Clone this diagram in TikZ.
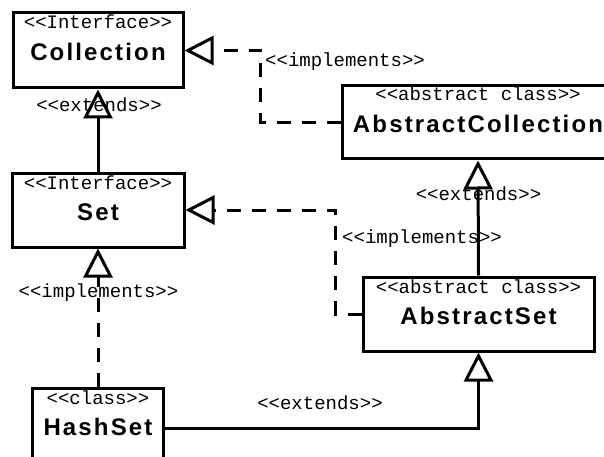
\documentclass[tikz,border=0pt]{standalone}
\usepackage{fontspec}
\usetikzlibrary{arrows.meta}
\newfontfamily\stereofont{Liberation Mono}
\newfontfamily\classfont[LetterSpace=9]{Liberation Sans}

\begin{document}
\begin{tikzpicture}[x=1pt, y=-1pt,
    classBox/.style={draw, line width=3pt, inner sep=0pt, minimum height=74pt},
    stereoText/.style={anchor=base, inner sep=0pt,
      font=\stereofont\fontsize{19}{19}\selectfont},
    nameText/.style={anchor=base, inner sep=0pt,
      font=\classfont\bfseries\fontsize{24}{24}\selectfont},
    generalizes/.style={-{Triangle[open, length=29pt, width=29pt]}, line width=3pt},
    realizes/.style={generalizes, dash pattern=on 14pt off 11pt}
  ]
  \useasboundingbox (0,0) rectangle (604,457);

  % interfaces
  \node[classBox, minimum width=170pt, minimum height=75pt] (Collection) at (98,50.5) {};
  \node[stereoText] (CollectionSt) at ([yshift=-17.5pt]Collection.north) {<<Interface>>};
  \node[nameText] (CollectionName) at ([yshift=-49pt]Collection.north) {Collection};

  \node[classBox, minimum width=172pt] (Set) at (98,210) {};
  \node[stereoText] (SetSt) at ([yshift=-17.5pt]Set.north) {<<Interface>>};
  \node[nameText] (SetName) at ([yshift=-49pt]Set.north) {Set};

  % abstract classes
  \node[classBox, minimum width=272pt, minimum height=73pt] (AbsColl) at (478,122.5) {};
  \node[stereoText] (AbsCollSt) at ([yshift=-16.5pt]AbsColl.north) {<<abstract class>>};
  \node[nameText] (AbsCollName) at ([yshift=-48pt]AbsColl.north) {AbstractCollection};

  \node[classBox, minimum width=231pt] (AbsSet) at (478.5,314) {};
  \node[stereoText] (AbsSetSt) at ([yshift=-17.5pt]AbsSet.north) {<<abstract class>>};
  \node[nameText] (AbsSetName) at ([yshift=-49pt]AbsSet.north) {AbstractSet};

  % concrete class, runs off the bottom
  \node[classBox, minimum width=131pt, minimum height=80pt] (HashSet) at (98,428) {};
  \node[stereoText] (HashSetSt) at ([yshift=-17.5pt]HashSet.north) {<<class>>};
  \node[nameText] (HashSetName) at ([yshift=-49pt]HashSet.north) {HashSet};

  % inheritance
  \draw[generalizes] (Set.north) -- (Collection.south);
  \draw[generalizes] (AbsSet.north) -- (AbsColl.south);
  \draw[generalizes] (HashSet.east) -| (AbsSet.south);

  % realization
  \draw[realizes] (AbsColl.west) -- ++(-80,0) |- (Collection.east);
  \draw[realizes] (AbsSet.west) -- ++(-26,0) |- (Set.east);
  \draw[realizes] (HashSet.north) -- (Set.south);

  % connector labels
  \node[stereoText, anchor=base west] (ImplA) at (265,67) {<<implements>>};
  \node[stereoText] (ExtA) at (99,112) {<<extends>>};
  \node[stereoText] (ExtB) at (478.5,200) {<<extends>>};
  \node[stereoText, anchor=base west] (ImplB) at (342,243) {<<implements>>};
  \node[stereoText] (ImplC) at (98.5,297) {<<implements>>};
  \node[stereoText] (ExtC) at (320,409) {<<extends>>};
\end{tikzpicture}
\end{document}
